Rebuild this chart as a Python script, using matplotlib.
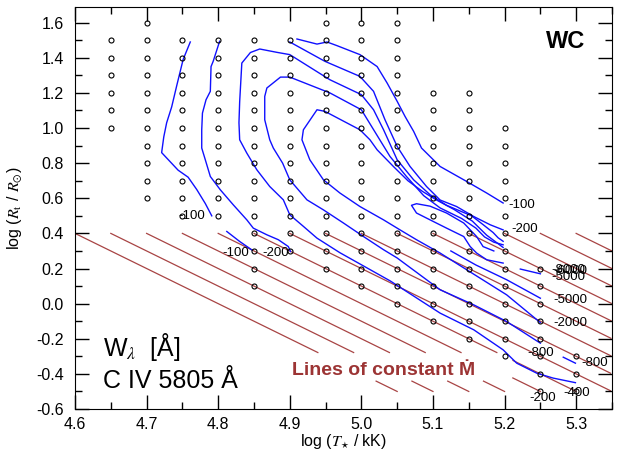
import numpy as np
import matplotlib
matplotlib.use("Agg")
import matplotlib.pyplot as plt
from matplotlib.ticker import MultipleLocator

plt.rcParams['font.family'] = ['Liberation Sans', 'DejaVu Sans']
plt.rcParams['mathtext.fontset'] = 'stix'

# model grid (log T*, log Rt): one column per temperature
grid_T = [4.65, 4.70, 4.75, 4.80, 4.85, 4.90, 4.95, 5.00, 5.05, 5.10, 5.15, 5.20, 5.25, 5.30]
grid_top = [1.5, 1.6, 1.5, 1.5, 1.5, 1.5, 1.6, 1.6, 1.6, 1.2, 1.2, 1.0, 0.2, -0.3]
grid_bot = [1.0, 0.6, 0.5, 0.5, 0.1, 0.3, 0.2, 0.1, 0.0, -0.1, -0.2, -0.3, -0.5, -0.5]

# lines of constant Mdot: start at log Rt = 0.4, slope -2
mdot_T0 = [4.60, 4.65, 4.70, 4.75, 4.80, 4.85, 4.90, 4.95, 5.00, 5.05, 5.10, 5.15, 5.20, 5.25, 5.30]

# W_lambda contours, traced (log T*, log Rt)
c_a_T = [4.761, 4.751, 4.742, 4.735, 4.728, 4.724, 4.721, 4.744, 4.758, 4.770, 4.782, 4.791]
c_a_R = [1.49, 1.39, 1.24, 1.12, 1.03, 0.95, 0.86, 0.76, 0.72, 0.65, 0.57, 0.50]

c_b_T = [4.802, 4.793, 4.790, 4.789, 4.783, 4.778, 4.777, 4.777, 4.782, 4.789, 4.803, 4.821, 4.840,
         4.849, 4.868, 4.884, 4.898, 4.901]
c_b_R = [1.494, 1.38, 1.35, 1.209, 1.161, 1.085, 0.99, 0.886, 0.819, 0.724, 0.648, 0.563, 0.477,
         0.430, 0.392, 0.364, 0.325, 0.297]

c_c_T = [4.812, 4.830, 4.847]
c_c_R = [0.411, 0.354, 0.306]

c_l1_T = [4.910, 4.938, 4.952, 4.966, 4.998, 5.022, 5.036, 5.050, 5.061, 5.073, 5.084, 5.110,
          5.147, 5.175, 5.198]
c_l1_R = [1.507, 1.478, 1.490, 1.469, 1.418, 1.350, 1.256, 1.152, 1.066, 0.981, 0.886, 0.781,
          0.696, 0.630, 0.573]

c_l2_T = [4.900, 4.949, 4.998, 5.017, 5.033, 5.050, 5.068, 5.091, 5.110, 5.133, 5.157, 5.180, 5.198]
c_l2_R = [1.490, 1.380, 1.294, 1.209, 1.047, 0.895, 0.781, 0.667, 0.590, 0.553, 0.496, 0.449, 0.420]

c_d_T = [5.299, 5.268, 5.245, 5.217, 5.198, 5.157, 5.110, 5.040, 4.970, 4.938, 4.919, 4.900,
         4.891, 4.872, 4.854, 4.840, 4.830, 4.829, 4.830, 4.833, 4.845, 4.858, 4.882, 4.900,
         4.956, 5.000, 5.017, 5.031, 5.050, 5.073, 5.096, 5.119, 5.154, 5.170, 5.184, 5.191, 5.198]
c_d_R = [-0.450, -0.424, -0.396, -0.339, -0.263, -0.149, -0.054, 0.130, 0.290, 0.373, 0.440, 0.506,
         0.591, 0.667, 0.762, 0.857, 0.933, 1.030, 1.150, 1.370, 1.430, 1.450, 1.431, 1.418,
         1.275, 1.190, 1.104, 0.990, 0.819, 0.705, 0.620, 0.560, 0.500, 0.450, 0.405, 0.375, 0.355]

c_g_T = [5.250, 5.203, 5.157, 5.110, 5.050, 5.031, 5.003, 4.975, 4.947, 4.924, 4.900, 4.890,
         4.877, 4.872, 4.865, 4.865, 4.868, 4.887, 4.900, 4.956, 5.000, 5.040, 5.063, 5.087,
         5.110, 5.140, 5.160, 5.172, 5.185, 5.198]
c_g_R = [-0.225, -0.102, -0.007, 0.079, 0.260, 0.307, 0.382, 0.459, 0.534, 0.591, 0.705, 0.800,
         0.886, 0.933, 1.047, 1.180, 1.228, 1.290, 1.290, 1.200, 1.104, 0.838, 0.724, 0.615,
         0.545, 0.485, 0.430, 0.380, 0.350, 0.335]

c_e_T = [5.250, 5.203, 5.110, 5.077, 5.054, 5.031, 4.998, 4.970, 4.947, 4.928, 4.917, 4.919,
         4.938, 4.949, 4.998, 5.012, 5.022, 5.045, 5.065, 5.085, 5.105, 5.130, 5.155, 5.175, 5.198]
c_e_R = [-0.108, 0.050, 0.288, 0.364, 0.420, 0.477, 0.553, 0.630, 0.705, 0.819, 0.933, 0.990,
         1.104, 1.095, 0.990, 0.933, 0.876, 0.780, 0.700, 0.640, 0.590, 0.535, 0.470, 0.390, 0.320]

# elongated hairpin loop near log T* = 5.1
c_k_T = [5.185, 5.170, 5.161, 5.143, 5.119, 5.096, 5.077, 5.070, 5.077, 5.096, 5.119, 5.143,
         5.152, 5.161, 5.175, 5.198]
c_k_R = [0.300, 0.325, 0.382, 0.459, 0.516, 0.555, 0.569, 0.560, 0.516, 0.477, 0.430, 0.382,
         0.325, 0.288, 0.250, 0.231]

c_f_T = [5.250, 5.203, 5.160, 5.125]
c_f_R = [0.031, 0.136, 0.220, 0.300]

c_h_T = [5.222, 5.250]
c_h_R = [0.197, 0.170]

c_i_T = [5.282, 5.299]
c_i_R = [-0.305, -0.339]

contours = [(c_a_T, c_a_R), (c_b_T, c_b_R), (c_c_T, c_c_R), (c_l1_T, c_l1_R), (c_l2_T, c_l2_R),
            (c_d_T, c_d_R), (c_g_T, c_g_R), (c_e_T, c_e_R), (c_k_T, c_k_R), (c_f_T, c_f_R),
            (c_h_T, c_h_R), (c_i_T, c_i_R)]

# contour labels
lab_text = ['-100', '-100', '-200', '-100', '-200', '-8000', '-6000', '-5000', '-5000', '-2000',
            '-800', '-800', '-400', '-200']
lab_T = [4.745, 4.806, 4.862, 5.206, 5.209, 5.266, 5.268, 5.266, 5.268, 5.268, 5.232, 5.308, 5.282, 5.234]
lab_R = [0.500, 0.290, 0.290, 0.563, 0.426, 0.192, 0.186, 0.151, 0.022, -0.108, -0.280, -0.337, -0.507, -0.540]

fig = plt.figure(figsize=(6.2, 4.57), dpi=100)
ax = fig.add_axes([0.121, 0.105, 0.866, 0.880])

red = '#a84444'
for x0 in mdot_T0:
    x = np.linspace(x0, x0 + 0.45, 200)
    y = 0.4 - 2.0 * (x - x0)
    gap = (y < -0.28) & (y > -0.44) & (x > 4.93) & (x < 5.21)
    y = np.where(gap | (x > 5.35), np.nan, y)
    ax.plot(x, y, color=red, lw=0.9, zorder=1)

for t, top, bot in zip(grid_T, grid_top, grid_bot):
    n = int(round((top - bot) / 0.1)) + 1
    ys = np.linspace(bot, top, n)
    ax.plot([t] * n, ys, 'o', ms=3.6, mfc='none', mec='black', mew=0.8, zorder=3)

for xs, ys in contours:
    ax.plot(xs, ys, color='#1010ff', lw=1.0, zorder=2)

for s, x, y in zip(lab_text, lab_T, lab_R):
    ax.text(x, y, s, fontsize=9.5, ha='left', va='center', zorder=4)

ax.text(5.285, 1.494, 'WC', fontsize=17, fontweight='bold', ha='center', va='center')
ax.text(4.639, -0.297, 'W$_{\\lambda}$  [Å]', fontsize=18, ha='left', va='baseline')
ax.text(4.639, -0.48, 'C IV 5805 Å', fontsize=18, ha='left', va='baseline')
ax.text(4.903, -0.406, 'Lines of constant Ṁ', fontsize=14, fontweight='bold', color='#9c3434',
        ha='left', va='baseline')

ax.set_xlim(4.6, 5.35)
ax.set_ylim(-0.6, 1.69)
ax.xaxis.set_major_locator(MultipleLocator(0.1))
ax.xaxis.set_minor_locator(MultipleLocator(0.05))
ax.yaxis.set_major_locator(MultipleLocator(0.2))
ax.yaxis.set_minor_locator(MultipleLocator(0.1))
ax.tick_params(which='both', direction='in', top=True, right=True, labelsize=11.5, width=1)
ax.tick_params(which='major', length=10)
ax.tick_params(which='minor', length=5)
ax.tick_params(axis='x', pad=6)
ax.tick_params(axis='y', pad=8)
ax.set_xticklabels([f'{v:.1f}' for v in ax.get_xticks()])
ax.set_yticklabels([f'{v:.1f}' for v in ax.get_yticks()])
ax.set_xlim(4.6, 5.35)
ax.set_ylim(-0.6, 1.69)

ax.set_xlabel('log ($T_{\\star}$ / kK)', fontsize=11.5)
ax.set_ylabel('log ($R_{\\mathrm{t}}$ / $R_{\\odot}$)', fontsize=11.5)
ax.yaxis.set_label_coords(-0.095, 0.5)
ax.xaxis.set_label_coords(0.5, -0.057)

fig.savefig('out.png', dpi=100)
